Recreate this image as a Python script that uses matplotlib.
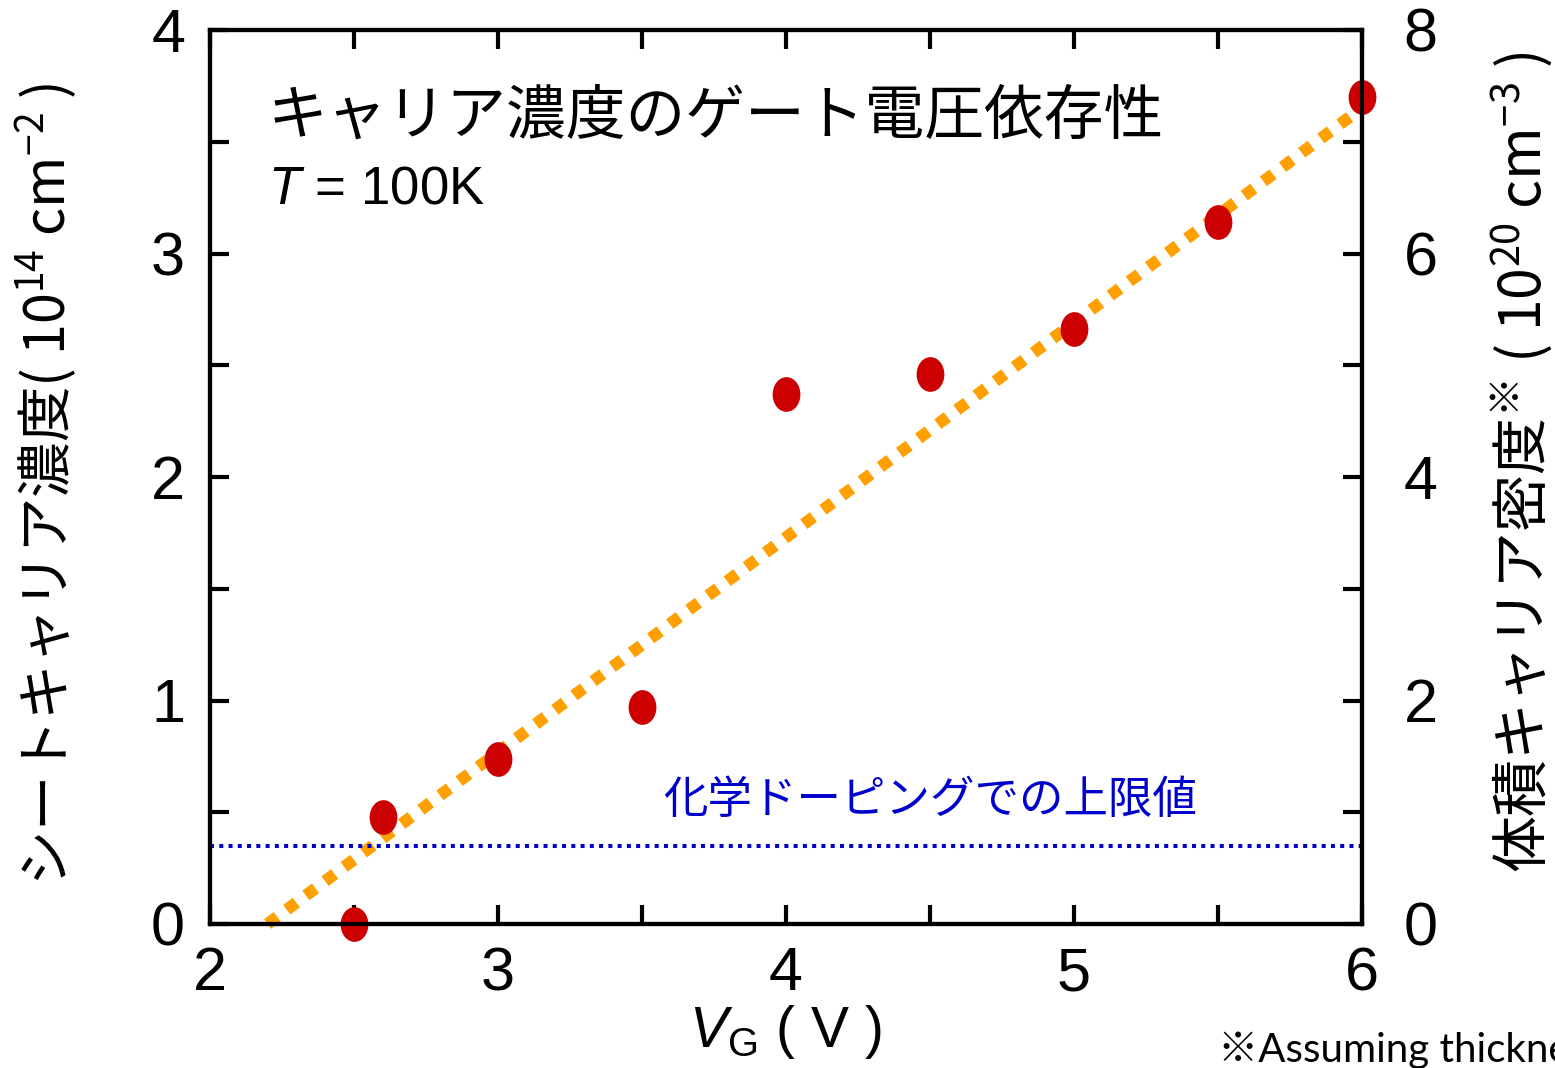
import numpy as np
import matplotlib
matplotlib.use("Agg")
import matplotlib.pyplot as plt
from matplotlib.path import Path
from matplotlib.transforms import Affine2D

# ---------- data ----------
vg = [2.5, 2.6, 3.0, 3.5, 4.0, 4.5, 5.0, 5.5, 6.0]
n_sheet = [0.0, 0.48, 0.74, 0.97, 2.37, 2.46, 2.66, 3.14, 3.70]

# linear fit through the points
fit_vg = [2.2, 6.05]
fit_n = [0.0, 3.70]

# upper limit reachable by chemical doping
chem_limit = 0.35

x_ticks = [2, 3, 4, 5, 6]
y_ticks = [0, 1, 2, 3, 4]
y2_ticks = [0, 2, 4, 6, 8]

# ---------- fonts ----------
plt.rcParams["font.family"] = ["Liberation Sans", "Noto Sans CJK JP", "DejaVu Sans"]
plt.rcParams["mathtext.fontset"] = "custom"
plt.rcParams["mathtext.rm"] = "Liberation Sans"
plt.rcParams["mathtext.it"] = "Liberation Sans:italic"
plt.rcParams["mathtext.default"] = "regular"
CJK = "Noto Sans CJK JP"

W, H = 1555, 1068
fig = plt.figure(figsize=(W / 100, H / 100), dpi=100)
ax = fig.add_axes([210 / W, 1 - 924 / H, (1362 - 210) / W, (924 - 30) / H])
ax2 = ax.twinx()

# slightly tall ellipse marker
ellipse = Path.unit_circle().transformed(Affine2D().scale(0.8, 1.0))

ax.plot(fit_vg, fit_n, color="#FF9F00", lw=8.6, linestyle=(0, (1, 1)),
        dash_capstyle="butt", clip_on=False, zorder=2)
ax.axhline(chem_limit, color="#0000CC", lw=2.9, linestyle=(0, (1, 1.3)),
           dash_capstyle="butt", zorder=2)
ax.plot(vg, n_sheet, linestyle="none", marker=ellipse, markersize=25,
        color="#CC0000", markeredgewidth=0, clip_on=False, zorder=3)

# ---------- axes ----------
ax.set_xlim(2, 6)
ax.set_ylim(0, 4)
ax2.set_ylim(0, 8)
ax.set_xticks(x_ticks)
ax.set_xticks(np.arange(2, 6.01, 0.5), minor=True)
ax.set_yticks(y_ticks)
ax.set_yticks(np.arange(0, 4.01, 0.5), minor=True)
ax2.set_yticks(y2_ticks)
ax2.set_yticks(np.arange(0, 8.01, 1), minor=True)

for a in (ax, ax2):
    for s in a.spines.values():
        s.set_linewidth(3)
ax.tick_params(which="both", direction="in", length=14, width=3,
               top=True, right=False, labelsize=44)
ax.tick_params(axis="x", which="major", pad=16)
ax.tick_params(axis="y", which="major", pad=18)
ax2.tick_params(which="both", direction="in", length=14, width=3,
                labelsize=44, pad=30)

# ---------- texts ----------
fig.text(268 / W, 1 - 117 / H, "キャリア濃度のゲート電圧依存性",
         family=CJK, fontsize=43, ha="left", va="center")
fig.text(268 / W, 1 - 190 / H, r"$\mathit{T}$ = 100K",
         fontsize=38, ha="left", va="center")
fig.text(930 / W, 1 - 800 / H, "化学ドーピングでの上限値",
         family=CJK, fontsize=32, color="#0000CC", ha="center", va="center")

fig.text(46 / W, 1 - 484 / H, r"シートキャリア濃度( $10^{14}$ cm$^{-2}$ )",
         family=CJK, fontsize=40, rotation=90, ha="center", va="center")
fig.text(1522 / W, 1 - 462 / H, r"体積キャリア密度$^{※}$ ( $10^{20}$ cm$^{-3}$ )",
         family=CJK, fontsize=41, rotation=90, ha="center", va="center")
fig.text(785 / W, 1 - 1032 / H, r"$\mathit{V}_{\mathrm{G}}$ ( V )",
         fontsize=41, ha="center", va="center")

# footnote runs off the right edge of the figure
fig.text(1218 / W, 1 - 1062 / H, "※Assuming thickness",
         family=["Lato", CJK], fontsize=29, ha="left", va="baseline")

fig.savefig("out.png", dpi=100)
